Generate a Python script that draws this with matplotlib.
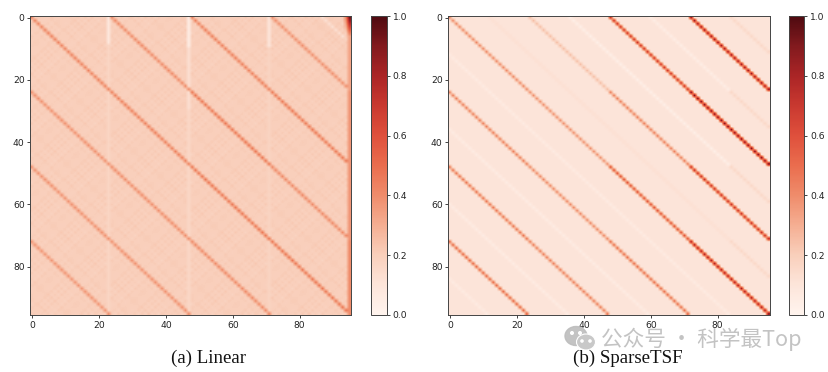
#!/usr/bin/env python3
# -*- coding: utf-8 -*-

import numpy as np
import matplotlib
matplotlib.use("Agg")
import matplotlib.pyplot as plt
from matplotlib.colors import LinearSegmentedColormap
from matplotlib.patches import Ellipse

# =========================
# Data
# =========================
n_steps = 96
period = 24
cbar_ticks = [0.0, 0.2, 0.4, 0.6, 0.8, 1.0]
axis_ticks = [0, 20, 40, 60, 80]
captions = ["(a) Linear", "(b) SparseTSF"]
watermark = "公众号 · 科学最Top"

# colour bar as it looks in the picture, 0.0 to 1.0 in steps of 0.1
cbar_colors = ["#fff4ee", "#fde5da", "#f9cfbb", "#f5ae92", "#ef8c6b", "#ea6d4e",
               "#df503c", "#c93930", "#ab2526", "#821a1e", "#4f0a10"]

# strength of the periodic diagonals, per 24x24 block (row block, col block)
linear_blocks = [
    [0.43, 0.41, 0.44, 0.39],
    [0.39, 0.44, 0.47, 0.46],
    [0.39, 0.40, 0.47, 0.41],
    [0.38, 0.39, 0.41, 0.47],
]
sparse_blocks = [
    [0.42, 0.26, 0.72, 0.88],
    [0.45, 0.40, 0.45, 0.95],
    [0.48, 0.42, 0.60, 0.74],
    [0.52, 0.45, 0.50, 0.84],
]

linear_base = 0.2
sparse_base = 0.105

# weak mottling of the Linear background, along both diagonal directions
linear_ripple = [0.0, 0.009, -0.005, 0.006, -0.008, 0.005, 0.01, -0.006,
                 0.003, -0.009, 0.006, 0.0, 0.013, -0.006, 0.005, -0.008,
                 0.008, -0.003, 0.009, -0.008, 0.003, 0.006, -0.005, 0.01]
linear_cross = [0.009, -0.009, 0.013, -0.005, 0.0, -0.012, 0.008, 0.003,
                -0.008, 0.012, -0.003, 0.006, -0.01, 0.005, 0.009, -0.006]

# pale stripes of Linear: column, first row, last row, value
linear_stripes_col = [23, 23, 47, 47, 47, 71, 71]
linear_stripes_r0 = [0, 9, 0, 10, 30, 0, 10]
linear_stripes_r1 = [9, 96, 10, 30, 96, 10, 96]
linear_stripes_val = [0.09, 0.175, 0.06, 0.13, 0.165, 0.1, 0.18]

# last column of Linear, by row block, and the top right corner
linear_last_col = [0.33, 0.37, 0.37, 0.4]
linear_corner_rows = [0, 1, 2, 3, 4, 5]
linear_corner_vals = [0.92, 0.84, 0.74, 0.64, 0.54, 0.44]

# faint diagonals of SparseTSF: offset (col - row), value
sparse_faint_off = [12, 36, 60, 84, -12, -36, -60, -84]
sparse_faint_val = [0.125, 0.035, 0.045, 0.155, 0.06, 0.055, 0.055, 0.06]
sparse_faint_right = 0.16  # the same lines in columns 84 and up


# =========================
# Build the matrices
# =========================
def periodic_matrix(base, blocks):
    m = np.full((n_steps, n_steps), base, dtype=float)
    for i in range(n_steps):
        for j in range(n_steps):
            if (j - i) % period == 0:
                m[i, j] = blocks[i // period][j // period]
    return m


linear = periodic_matrix(linear_base, linear_blocks)
for i in range(n_steps):
    for j in range(n_steps):
        if (j - i) % period != 0:
            linear[i, j] += linear_ripple[(j - i) % period] + linear_cross[(i + j) % 16]
for c, r0, r1, v in zip(linear_stripes_col, linear_stripes_r0, linear_stripes_r1, linear_stripes_val):
    for r in range(r0, r1):
        if (c - r) % period != 0:
            linear[r, c] = v
for i in range(n_steps):
    linear[i, 95] = linear_last_col[i // period]
for r, v in zip(linear_corner_rows, linear_corner_vals):
    linear[r, 95] = v
    linear[r, 94] = v * 0.45
for r in range(0, 7):
    linear[r, r + 87] = 0.12

sparse = periodic_matrix(sparse_base, sparse_blocks)
for off, v in zip(sparse_faint_off, sparse_faint_val):
    for i in range(n_steps):
        j = i + off
        if 0 <= j < n_steps:
            sparse[i, j] = sparse_faint_right if j >= 84 else v


# =========================
# Plot
# =========================
cmap = LinearSegmentedColormap.from_list("reds_shot", cbar_colors)

W, H = 829, 372
fig = plt.figure(figsize=(W / 100, H / 100), dpi=100)


def px_axes(x0, x1, y0, y1):
    return fig.add_axes([x0 / W, 1 - y1 / H, (x1 - x0) / W, (y1 - y0) / H])


panels = [
    (linear, (30.5, 351.5), (371, 387), 209),
    (sparse, (448.5, 769.5), (789, 804.5), 628),
]
frame_col = "#444444"

for (mat, (x0, x1), (cx0, cx1), cap_x), cap in zip(panels, captions):
    ax = px_axes(x0, x1, 16, 315)
    im = ax.imshow(mat, cmap=cmap, vmin=0, vmax=1, aspect="auto", interpolation="bilinear")
    ax.set_xticks(axis_ticks)
    ax.set_yticks(axis_ticks)
    ax.tick_params(labelsize=6.6, length=2.2, width=0.6, pad=2, color="#222222", labelcolor="#222222")
    for sp in ax.spines.values():
        sp.set_linewidth(0.7)
        sp.set_color(frame_col)

    cax = px_axes(cx0, cx1, 16, 315)
    cb = fig.colorbar(im, cax=cax)
    cb.set_ticks(cbar_ticks)
    cb.ax.tick_params(labelsize=6.6, length=2.2, width=0.6, pad=2, color="#222222", labelcolor="#222222")
    cb.outline.set_linewidth(0.7)
    cb.outline.set_edgecolor(frame_col)

    fig.text(cap_x / W, 1 - 358 / H, cap, ha="center", va="center", fontsize=13.6,
             family=["Liberation Serif", "DejaVu Serif"], color="#111111", zorder=3)

# watermark over everything, in pixel coordinates
ov = fig.add_axes([0, 0, 1, 1], facecolor="none")
ov.set_xlim(0, W)
ov.set_ylim(H, 0)
ov.axis("off")
wm_col = "#bdbdbd"
ov.add_patch(Ellipse((576, 336), 22, 19, color=wm_col, alpha=0.9))
ov.add_patch(Ellipse((586, 342), 19, 16, color="#c8c8c8", ec="white", lw=0.8))
for ex, ey, es in [(572, 333, 2.6), (580, 333, 2.6), (582, 341, 2.2), (590, 341, 2.2)]:
    ov.add_patch(Ellipse((ex, ey), es, es, color="white"))
ov.text(601, 339, watermark, ha="left", va="center", fontsize=15.6, color=wm_col, alpha=0.9,
        family=["Noto Sans CJK SC", "DejaVu Sans"])

fig.savefig("out.png", dpi=100, facecolor="white")
plt.close(fig)
print("[OK] saved: out.png")
